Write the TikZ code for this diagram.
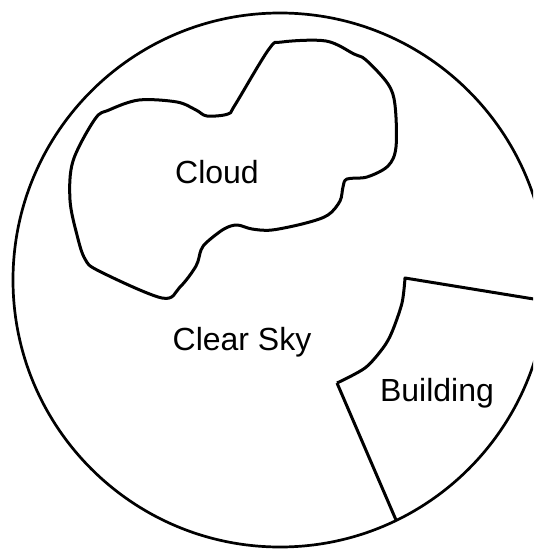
\documentclass[tikz,border=0pt]{standalone}
\usepackage{fontspec}
\setmainfont{Liberation Sans}
\usepackage{tikz}

\begin{document}
\begin{tikzpicture}[x=1pt, y=-1pt, line width=3pt, line join=round,
    every node/.style={font=\fontsize{32}{38}\selectfont, inner sep=0pt}]
    \useasboundingbox (0, 0) rectangle (533, 549);
    \clip (0, 0) rectangle (533, 549);

    % field of view
    \draw[line width=2.7pt] (280, 280) circle[radius=267];

    % cloud outline
    \draw plot[smooth cycle, tension=0.55] coordinates {
        (282,42) (326,41) (354,54) (366,60) (388,84) (395,105) (396,147)
        (388,166) (367,177) (347,179) (343,187) (340,201) (328,215) (306,223)
        (272,230) (252,229) (237,225) (224,229) (207,242) (201,250) (196,266)
        (180,287) (162,298) (99,271) (85,259) (77,235) (70,200) (73,161)
        (95,119) (109,110) (139,100) (177,102) (196,110) (207,116) (228,114)
        (235,105) (269,49)};

    % building edge
    \draw (396, 520) -- (337, 383)
        plot[smooth, tension=0.5] coordinates {(337,383) (365,368) (383,348) (392,332) (402,303) (405,278)}
        -- (546, 301);

    \node[anchor=base] (cloud) at (217, 183) {Cloud};
    \node[anchor=base] (sky) at (242, 350) {Clear Sky};
    \node[anchor=base] (building) at (437, 401) {Building};
\end{tikzpicture}
\end{document}
